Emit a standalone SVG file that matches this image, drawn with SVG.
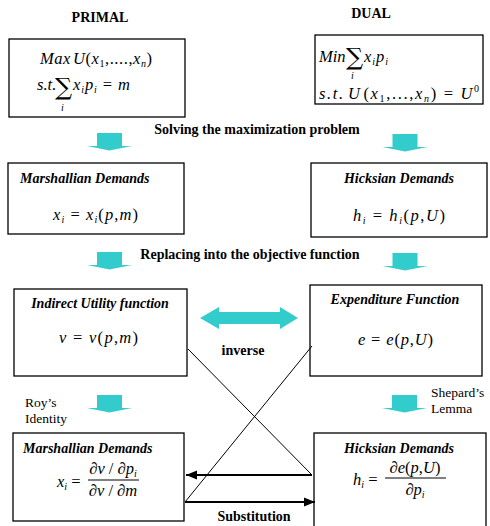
<svg xmlns="http://www.w3.org/2000/svg" width="490" height="526" viewBox="0 0 490 526">
<style>
.box{fill:#fff;stroke:#000;stroke-width:1.3}
.b{font-family:"Liberation Serif",serif;font-weight:bold;font-size:14px;fill:#000}
.bi{font-family:"Liberation Serif",serif;font-weight:bold;font-style:italic;font-size:14px;fill:#000}
.r{font-family:"Liberation Serif",serif;font-size:13.5px;fill:#000}
.m{font-family:"Liberation Serif",serif;font-style:italic;font-size:16.5px;fill:#000}
.n{font-style:normal}
.s{font-size:10px}
.sum{font-family:"DejaVu Serif","DejaVu Sans",serif;font-size:24px;fill:#000}
.blk{fill:#33CCCC}
.thin{stroke:#000;stroke-width:1;fill:none}
.thick{stroke:#000;stroke-width:2.2;fill:none}
</style>
<defs>
<marker id="ah" viewBox="0 0 10 10" refX="10" refY="5" markerWidth="5" markerHeight="5" markerUnits="strokeWidth" orient="auto">
<path d="M0,1 L10,5 L0,9 Z" fill="#000"/>
</marker>
<path id="down" d="M-12.5,0 H12.5 V13 H22.5 L0,17.5 L-22.5,13 H-12.5 Z"/>
</defs>

<text class="b" x="100" y="22" text-anchor="middle">PRIMAL</text>
<text class="b" x="371" y="18" text-anchor="middle">DUAL</text>

<g id="primal">
<rect class="box" x="9" y="39" width="176" height="78"/>
<text class="m" x="40" y="64" textLength="112" lengthAdjust="spacing">Max<tspan dx="2">U</tspan><tspan class="n">(</tspan>x<tspan class="s n" dy="3">1</tspan><tspan class="n" dy="-3">,....,</tspan>x<tspan class="s" dy="3">n</tspan><tspan class="n" dy="-3">)</tspan></text>
<text class="m" x="37" y="90">s.t.</text>
<text class="sum" x="55" y="95">∑</text>
<text class="m s" x="61" y="111">i</text>
<text class="m" x="73" y="90" textLength="57" lengthAdjust="spacing">x<tspan class="s" dy="3">i</tspan><tspan dy="-3">p</tspan><tspan class="s" dy="3">i</tspan><tspan dy="-3" class="n"> = </tspan>m</text>
</g>

<g id="dual">
<rect class="box" x="315" y="35" width="168" height="69"/>
<text class="m" x="319" y="62">Min</text>
<text class="sum" x="346" y="65">∑</text>
<text class="m s" x="351" y="79">i</text>
<text class="m" x="364" y="62" textLength="24" lengthAdjust="spacing">x<tspan class="s" dy="3">i</tspan><tspan dy="-3">p</tspan><tspan class="s" dy="3">i</tspan></text>
<text class="m" x="319" y="99" textLength="160" lengthAdjust="spacing">s.t.<tspan dx="3">U</tspan><tspan class="n" dx="2">(</tspan>x<tspan class="s n" dy="3">1</tspan><tspan class="n" dy="-3">,...,</tspan>x<tspan class="s" dy="3">n</tspan><tspan class="n" dy="-3">) = </tspan>U<tspan class="s n" dy="-7">0</tspan></text>
</g>

<text class="b" x="257" y="134" text-anchor="middle">Solving the maximization problem</text>

<g id="marshallian1">
<rect class="box" x="8" y="163" width="176" height="71"/>
<text class="bi" x="20" y="183">Marshallian Demands</text>
<text class="m" x="53" y="220" textLength="85" lengthAdjust="spacing">x<tspan class="s" dy="3">i</tspan><tspan class="n" dy="-3"> = </tspan>x<tspan class="s" dy="3">i</tspan><tspan class="n" dy="-3">(</tspan>p<tspan class="n">,</tspan>m<tspan class="n">)</tspan></text>
</g>

<g id="hicksian1">
<rect class="box" x="311" y="163" width="176" height="74"/>
<text class="bi" x="399" y="183" text-anchor="middle">Hicksian Demands</text>
<text class="m" x="353" y="221" textLength="92" lengthAdjust="spacing">h<tspan class="s" dy="3">i</tspan><tspan class="n" dy="-3"> = </tspan>h<tspan class="s" dy="3">i</tspan><tspan class="n" dy="-3">(</tspan>p<tspan class="n">,</tspan>U<tspan class="n">)</tspan></text>
</g>

<text class="b" x="250" y="259" text-anchor="middle">Replacing into the objective function</text>

<g id="indirect">
<rect class="box" x="14" y="289" width="173" height="87"/>
<text class="bi" x="100" y="308" text-anchor="middle">Indirect Utility function</text>
<text class="m" x="59" y="343" textLength="79" lengthAdjust="spacing">v<tspan class="n"> = </tspan>v<tspan class="n">(</tspan>p<tspan class="n">,</tspan>m<tspan class="n">)</tspan></text>
</g>

<g id="expenditure">
<rect class="box" x="310" y="285" width="172" height="91"/>
<text class="bi" x="395" y="304" text-anchor="middle">Expenditure Function</text>
<text class="m" x="358" y="345" textLength="75" lengthAdjust="spacing">e<tspan class="n"> = </tspan>e<tspan class="n">(</tspan>p<tspan class="n">,</tspan>U<tspan class="n">)</tspan></text>
</g>

<text class="b" x="243" y="355" text-anchor="middle">inverse</text>

<text class="r" x="25" y="407">Roy’s</text>
<text class="r" x="25" y="423">Identity</text>
<text class="r" x="431" y="397">Shepard’s</text>
<text class="r" x="431" y="413">Lemma</text>

<g id="marshallian2">
<rect class="box" x="13" y="433" width="171" height="88"/>
<text class="bi" x="23" y="453">Marshallian Demands</text>
<text class="m" x="57" y="487">x<tspan class="s" dy="3">i</tspan><tspan class="n" dy="-3"> =</tspan></text>
<text class="m" x="113" y="474" text-anchor="middle"><tspan class="n">∂</tspan>v<tspan class="n"> / ∂</tspan>p<tspan class="s" dy="3">i</tspan></text>
<line x1="88" y1="480" x2="139" y2="480" stroke="#000" stroke-width="1"/>
<text class="m" x="113" y="496" text-anchor="middle"><tspan class="n">∂</tspan>v<tspan class="n"> / ∂</tspan>m</text>
</g>

<g id="hicksian2">
<rect class="box" x="314" y="433" width="172" height="100"/>
<text class="bi" x="399" y="453" text-anchor="middle">Hicksian Demands</text>
<text class="m" x="353" y="485">h<tspan class="s" dy="3">i</tspan><tspan class="n" dy="-3"> =</tspan></text>
<text class="m" x="415" y="473" text-anchor="middle"><tspan class="n">∂</tspan>e<tspan class="n">(</tspan>p<tspan class="n">,</tspan>U<tspan class="n">)</tspan></text>
<line x1="385" y1="478" x2="446" y2="478" stroke="#000" stroke-width="1"/>
<text class="m" x="415" y="495" text-anchor="middle"><tspan class="n">∂</tspan>p<tspan class="s" dy="3">i</tspan></text>
</g>

<text class="b" x="254" y="521" text-anchor="middle">Substitution</text>

<g id="connectors">
<use href="#down" class="blk" x="109.5" y="133"/>
<use href="#down" class="blk" x="405" y="134"/>
<use href="#down" class="blk" x="109.5" y="252"/>
<use href="#down" class="blk" x="405" y="253"/>
<use href="#down" class="blk" x="109.5" y="395"/>
<use href="#down" class="blk" x="404.5" y="395"/>
<path class="blk" d="M200,318 L219,307 V312 H280 V307 L298,318 L280,329 V324 H219 V329 Z"/>
<line class="thin" x1="188" y1="349" x2="312" y2="475"/>
<line class="thin" x1="185" y1="502" x2="312" y2="346"/>
<line class="thick" x1="312" y1="475" x2="186" y2="475" marker-end="url(#ah)"/>
<line class="thick" x1="185" y1="502" x2="315" y2="502" marker-end="url(#ah)"/>
</g>
</svg>
